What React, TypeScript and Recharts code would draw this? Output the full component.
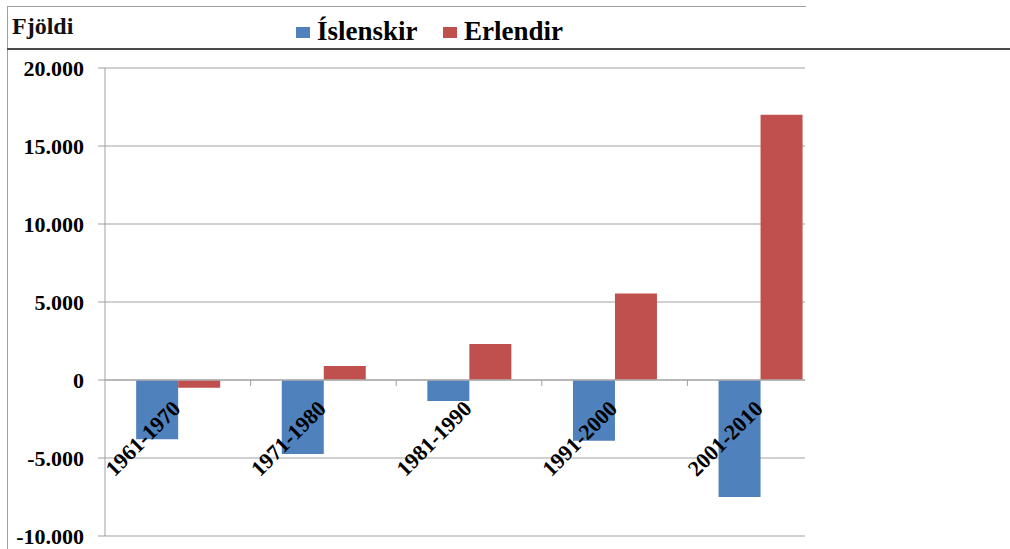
import { BarChart, Bar, XAxis, YAxis, CartesianGrid, ReferenceLine } from "recharts";

const PERIODS = ["1961-1970", "1971-1980", "1981-1990", "1991-2000", "2001-2010"];
const ISLENSKIR = [-3800, -4750, -1350, -3900, -7500];
const ERLENDIR = [-500, 900, 2300, 5550, 17000];
const Y_TICKS = [-10000, -5000, 0, 5000, 10000, 15000, 20000];
const SERIES_NAMES = ["Íslenskir", "Erlendir"];
const Y_LABEL = "Fjöldi";

const BLUE = "#4F81BD";
const RED = "#C0504D";
const FONT = "'Liberation Serif', 'Times New Roman', serif";

const DATA = PERIODS.map((period, i) => ({
  period,
  islenskir: ISLENSKIR[i],
  erlendir: ERLENDIR[i],
}));

const Y_MIN = Y_TICKS[0];
const Y_MAX = Y_TICKS[Y_TICKS.length - 1];

// chart geometry (plot area is wider than the visible frame; right side gets clipped)
const CHART_W = 850;
const CHART_H = 549;
const MARGIN = { top: 68, right: 17, bottom: 12, left: 0 };
const Y_AXIS_W = 105;
const X_AXIS_H = 1;
const PLOT_W = CHART_W - MARGIN.left - MARGIN.right - Y_AXIS_W;
const PLOT_H = CHART_H - MARGIN.top - MARGIN.bottom - X_AXIS_H;
const BAND = PLOT_W / PERIODS.length;

function formatNumber(v: number) {
  const s = Math.abs(v)
    .toString()
    .replace(/\B(?=(\d{3})+(?!\d))/g, ".");
  return v < 0 ? "-" + s : s;
}

function PeriodTick(props: any) {
  const { x, y, payload, index } = props;
  // move labels up from the plot bottom to the zero line
  const zeroY = y - PLOT_H * ((0 - Y_MIN) / (Y_MAX - Y_MIN));
  const ax = x + 4;
  const ay = zeroY + 30;
  return (
    <g>
      {index > 0 && (
        <line
          x1={x - BAND / 2}
          x2={x - BAND / 2}
          y1={zeroY}
          y2={zeroY + 6}
          stroke="#a0a0a0"
        />
      )}
      <text
        x={ax}
        y={ay}
        textAnchor="end"
        transform={`rotate(-45 ${ax} ${ay})`}
        fill="#000"
        fontSize={22}
        fontWeight={700}
        fontFamily={FONT}
      >
        {payload.value}
      </text>
    </g>
  );
}

export default function App() {
  return (
    <div
      style={{
        position: "absolute",
        left: 0,
        top: 0,
        width: 1010,
        height: 549,
        overflow: "hidden",
        background: "#fff",
        fontFamily: FONT,
      }}
    >
      <div
        style={{
          position: "absolute",
          left: 7,
          top: 6,
          width: 798,
          height: 600,
          borderTop: "1px solid #a0a0a0",
          borderLeft: "1px solid #a0a0a0",
        }}
      />
      <div
        style={{
          position: "absolute",
          left: 7,
          top: 48,
          right: 0,
          height: 2,
          background: "#4a4a4a",
        }}
      />
      <div
        style={{
          position: "absolute",
          left: 12,
          top: 14,
          fontSize: 24,
          lineHeight: 1,
          fontWeight: 700,
          color: "#111",
        }}
      >
        {Y_LABEL}
      </div>
      {SERIES_NAMES.map((name, i) => (
        <div
          key={name}
          style={{
            position: "absolute",
            left: i === 0 ? 296 : 443,
            top: 18,
            display: "flex",
            alignItems: "center",
            fontSize: 27,
            lineHeight: 1,
            fontWeight: 700,
            color: "#000",
          }}
        >
          <span
            style={{
              display: "inline-block",
              width: 14,
              height: 11,
              marginRight: 7,
              marginTop: 1,
              background: i === 0 ? BLUE : RED,
            }}
          />
          {name}
        </div>
      ))}
      <div
        style={{
          position: "absolute",
          left: 0,
          top: 0,
          width: 805,
          height: 549,
          overflow: "hidden",
        }}
      >
        <BarChart
          width={CHART_W}
          height={CHART_H}
          data={DATA}
          margin={MARGIN}
          barCategoryGap="21.4%"
          barGap={0}
        >
          <CartesianGrid vertical={false} stroke="#c0c0c0" strokeWidth={1.5} />
          <XAxis
            dataKey="period"
            height={X_AXIS_H}
            axisLine={false}
            tickLine={false}
            tickSize={0}
            tickMargin={0}
            interval={0}
            tick={<PeriodTick />}
          />
          <YAxis
            width={Y_AXIS_W}
            domain={[Y_MIN, Y_MAX]}
            ticks={Y_TICKS}
            interval={0}
            tickFormatter={formatNumber}
            tickSize={7}
            tickMargin={14}
            axisLine={{ stroke: "#a0a0a0" }}
            tickLine={{ stroke: "#a0a0a0" }}
            tick={{ fill: "#000", fontSize: 22, fontWeight: 700, fontFamily: FONT }}
          />
          <Bar dataKey="islenskir" name={SERIES_NAMES[0]} fill={BLUE} isAnimationActive={false} />
          <Bar dataKey="erlendir" name={SERIES_NAMES[1]} fill={RED} isAnimationActive={false} />
          <ReferenceLine y={0} stroke="#b0b0b0" strokeWidth={1.5} />
        </BarChart>
      </div>
    </div>
  );
}
